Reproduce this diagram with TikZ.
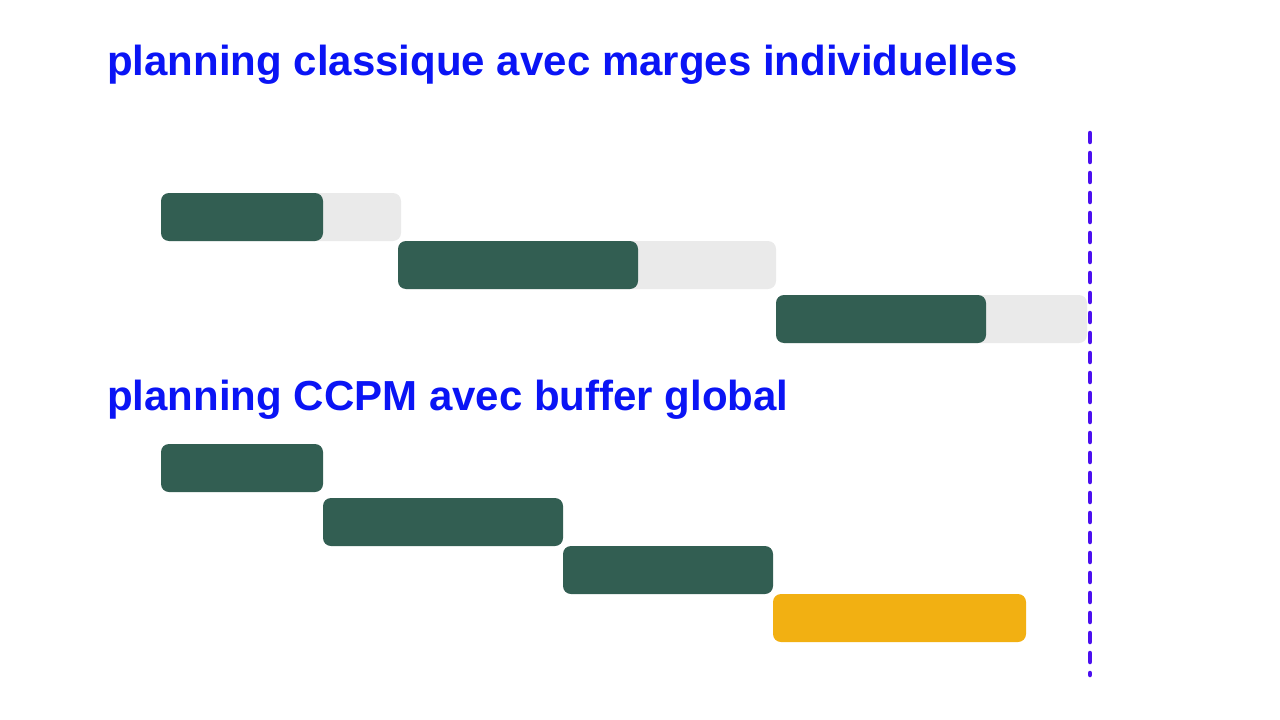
\documentclass[tikz,border=0pt]{standalone}
\usepackage{fontspec}
\setmainfont{Liberation Sans}
\definecolor{titleblue}{HTML}{0A14F5}
\definecolor{barGreen}{HTML}{325E52}
\definecolor{barGray}{HTML}{EAEAEA}
\definecolor{barYellow}{HTML}{F2B012}
\definecolor{lineViolet}{HTML}{4B0FF0}
\begin{document}
\begin{tikzpicture}[x=1pt,y=-1pt,
  titletext/.style={anchor=base west,inner sep=0pt,text=titleblue,font=\fontsize{42}{50}\selectfont\bfseries},
  taskbar/.style={fill=barGreen,rounded corners=8pt},
  marginbar/.style={fill=barGray,rounded corners=8pt},
  bufferbar/.style={fill=barYellow,rounded corners=8pt},
  deadline/.style={draw=lineViolet,line width=4.5pt,line cap=round,dash pattern=on 9pt off 11pt}]
\useasboundingbox (0,0) rectangle (1280,720);
\node[titletext] (t1) at (107,75) {planning classique avec marges individuelles};
\node[titletext] (t2) at (107,410) {planning CCPM avec buffer global};
% classic plan
\path[marginbar] (161,193) rectangle (401,241);
\path[taskbar] (161,193) rectangle (323,241);
\path[marginbar] (398,241) rectangle (776,289);
\path[taskbar] (398,241) rectangle (638,289);
\path[marginbar] (776,295) rectangle (1087,343);
\path[taskbar] (776,295) rectangle (986,343);
% CCPM plan
\path[taskbar] (161,444) rectangle (323,492);
\path[taskbar] (323,498) rectangle (563,546);
\path[taskbar] (563,546) rectangle (773,594);
\path[bufferbar] (773,594) rectangle (1026,642);
% deadline
\coordinate (d1) at (1090,133);
\coordinate (d2) at (1090,675);
\draw[deadline] (d1) -- (d2);
\end{tikzpicture}
\end{document}
